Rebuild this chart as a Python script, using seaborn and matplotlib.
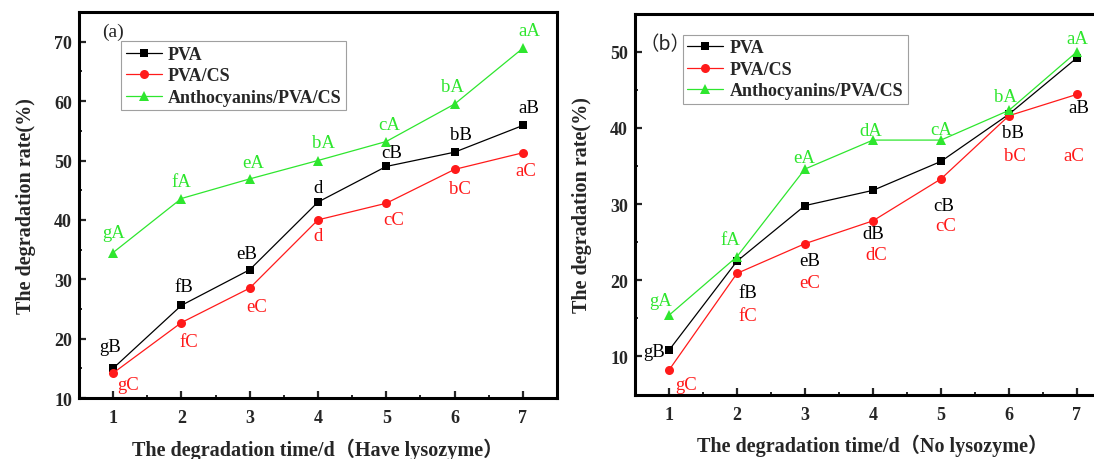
import matplotlib
matplotlib.use("Agg")
import matplotlib.pyplot as plt
from matplotlib.ticker import MultipleLocator
import seaborn as sns
import pandas as pd

# ---- data -------------------------------------------------------------
days = [1, 2, 3, 4, 5, 6, 7]
series_names = ["PVA", "PVA/CS", "Anthocyanins/PVA/CS"]

# (a) with lysozyme
pva_a = [15.0, 25.6, 31.6, 43.0, 49.0, 51.4, 55.9]
pvacs_a = [14.2, 22.7, 28.5, 40.0, 42.8, 48.5, 51.3]
antho_a = [34.5, 43.6, 46.9, 50.0, 53.2, 59.5, 68.9]

# (b) without lysozyme
pva_b = [10.8, 22.5, 29.8, 31.8, 35.6, 41.8, 49.2]
pvacs_b = [8.2, 20.9, 24.8, 27.8, 33.3, 41.6, 44.4]
antho_b = [15.4, 23.1, 34.6, 38.4, 38.4, 42.3, 50.0]

# significance letters
sig_pva_a = ["gB", "fB", "eB", "d", "cB", "bB", "aB"]
sig_pvacs_a = ["gC", "fC", "eC", "d", "cC", "bC", "aC"]
sig_antho_a = ["gA", "fA", "eA", "bA", "cA", "bA", "aA"]
sig_pva_b = ["gB", "fB", "eB", "dB", "cB", "bB", "aB"]
sig_pvacs_b = ["gC", "fC", "eC", "dC", "cC", "bC", "aC"]
sig_antho_b = ["gA", "fA", "eA", "dA", "cA", "bA", "aA"]

# ---- styling -------------------------------------------------------------
colors = ["#000000", "#ff1a1a", "#2ee62e"]
markers = ["s", "o", "^"]
msizes = [5.5, 6.5, 7.0]

# label offsets in pixels (dx, dy), one list per series
offs_a = [
    [(-3, 22), (2, 19), (-3, 16), (0, 15), (5, 14), (6, 18), (6, 18)],
    [(15, -11), (7, -19), (7, -18), (0, -16), (7, -16), (5, -19), (3, -18)],
    [(0, 20), (0, 17), (3, 16), (5, 18), (3, 17), (-2, 18), (6, 18)],
]
offs_b = [
    [(-15, -1), (11, -31), (5, -55), (0, -43), (3, -44), (4, -18), (2, -50)],
    [(17, -14), (11, -42), (5, -39), (3, -34), (5, -47), (6, -40), (-3, -61)],
    [(-8, 15), (-7, 17), (-1, 12), (-2, 10), (0, 11), (-4, 14), (0, 13)],
]

sns.set_style("ticks")
plt.rcParams["font.family"] = ["Liberation Serif", "Noto Sans CJK SC"]
plt.rcParams["axes.linewidth"] = 2.2
plt.rcParams["xtick.direction"] = "in"
plt.rcParams["ytick.direction"] = "in"

serif_cjk = ["Liberation Serif", "Noto Sans CJK SC"]

fig = plt.figure(figsize=(10.94, 4.6), dpi=100)
ax1 = fig.add_axes([0.0722, 0.1326, 0.4369, 0.839])
ax2 = fig.add_axes([0.5804, 0.1402, 0.4351, 0.828])


def draw_panel(ax, values, sigs, offs, ylim, ymajor, xlabel, tag, tag_xy,
               tag_family, leg_anchor):
    for name, vals, col, mk, ms in zip(series_names, values, colors, markers, msizes):
        df = pd.DataFrame({"day": days, "rate": vals})
        sns.lineplot(data=df, x="day", y="rate", ax=ax, color=col, marker=mk,
                     markersize=ms, markeredgewidth=0, linewidth=0.9,
                     label=name, legend=False)
    for vals, labels, col, off in zip(values, sigs, colors, offs):
        for d, v, t, (dx, dy) in zip(days, vals, labels, off):
            ax.annotate(t, (d, v), xytext=(dx, dy), textcoords="offset pixels",
                        ha="center", va="center", color=col, fontsize=13.5,
                        family="Liberation Serif")
    ax.set_xlim(0.5, 7.5)
    ax.set_ylim(*ylim)
    ax.xaxis.set_major_locator(MultipleLocator(1))
    ax.xaxis.set_minor_locator(MultipleLocator(0.5))
    ax.yaxis.set_major_locator(MultipleLocator(ymajor))
    ax.yaxis.set_minor_locator(MultipleLocator(ymajor / 2))
    ax.tick_params(which="major", length=5, width=1.6, labelsize=13)
    ax.tick_params(which="minor", length=2.5, width=1.4)
    ax.tick_params(axis="x", pad=8)
    ax.tick_params(axis="y", pad=5)
    for lab in ax.get_xticklabels() + ax.get_yticklabels():
        lab.set_fontweight("bold")
    for s in ax.spines.values():
        s.set_visible(True)
        s.set_linewidth(2.2)
        s.set_color("black")
    ax.set_xlabel(xlabel, fontsize=14.5, fontweight="bold", family=serif_cjk,
                  labelpad=8)
    ax.set_ylabel("The degradation rate(%)", fontsize=14.5, fontweight="bold",
                  labelpad=13)
    ax.text(tag_xy[0], tag_xy[1], tag, transform=ax.transAxes, fontsize=14,
            family=tag_family, ha="center", va="center")
    leg = ax.legend(loc="upper left", bbox_to_anchor=leg_anchor,
                    borderaxespad=0, frameon=True, fancybox=False,
                    prop={"family": "Liberation Serif", "weight": "bold",
                          "size": 13},
                    handlelength=2.0, handletextpad=0.35, labelspacing=0.25,
                    borderpad=0.25)
    leg.get_frame().set_edgecolor("#888888")
    leg.get_frame().set_linewidth(0.8)


draw_panel(ax1, [pva_a, pvacs_a, antho_a],
           [sig_pva_a, sig_pvacs_a, sig_antho_a], offs_a,
           (10, 75), 10, "The degradation time/d（Have lysozyme）",
           "(a)", (0.071, 0.951), "Liberation Serif", (0.088, 0.924))
draw_panel(ax2, [pva_b, pvacs_b, antho_b],
           [sig_pva_b, sig_pvacs_b, sig_antho_b], offs_b,
           (5, 55), 10, "The degradation time/d（No lysozyme）",
           "（b）", (0.063, 0.92), ["Noto Sans CJK SC"], (0.100, 0.944))

fig.savefig("out.png", dpi=100)
